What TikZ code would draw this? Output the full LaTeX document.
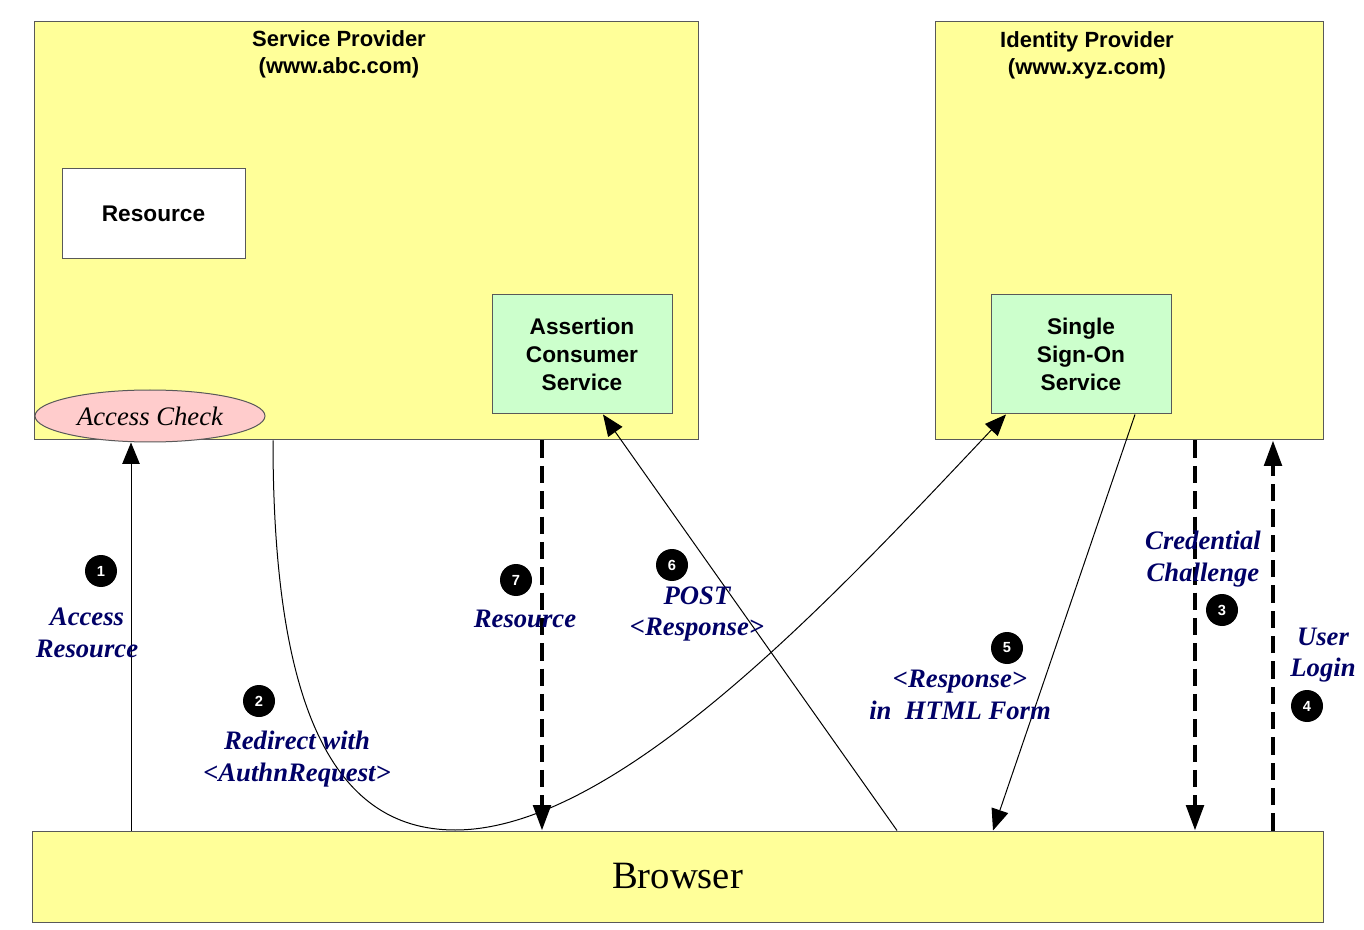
\documentclass[tikz,border=0pt]{standalone}
\usepackage{fontspec}
\setmainfont{Liberation Serif}
\setsansfont{Liberation Sans}
\usepackage{tikz}
\usetikzlibrary{shapes,arrows.meta,positioning}
\usepackage{xcolor}

\definecolor{boxyellow}{RGB}{255,255,153}
\definecolor{boxgreen}{RGB}{204,255,204}
\definecolor{checkpink}{RGB}{255,204,204}
\definecolor{labelblue}{RGB}{0,0,102}

\begin{document}
\begin{tikzpicture}[x=0.75pt,y=-0.75pt]
    \tikzstyle{party} = [rectangle, draw=black!65, fill=boxyellow, line width=0.75pt]
    \tikzstyle{title} = [font=\sffamily\bfseries\fontsize{16.5}{20}\selectfont, align=center]
    \tikzstyle{service} = [rectangle, draw=black!65, fill=boxgreen, line width=0.75pt,
    minimum width=135pt, minimum height=89.25pt, align=center,
    font=\sffamily\bfseries\fontsize{17}{21}\selectfont]
    \tikzstyle{msg} = [font=\bfseries\itshape\fontsize{20}{23.5}\selectfont,
    text=labelblue, align=center, inner sep=0pt]
    \tikzstyle{num} = [circle, fill=black, text=white, minimum size=24pt, inner sep=0pt,
    font=\sffamily\bfseries\fontsize{11}{11}\selectfont]
    \tikzstyle{line} = [draw, line width=0.75pt, -{Triangle[length=16pt, width=13pt]}]
    \tikzstyle{dline} = [draw, line width=3pt, dash pattern=on 13pt off 6pt,
    -{Triangle[length=19pt, width=13pt]}]

    \useasboundingbox (0,0) rectangle (1364,930);

    % Define parties
    \node[party, minimum width=498pt, minimum height=313.5pt] (sp) at (366,231) {};
    \node[party, minimum width=291pt, minimum height=313.5pt] (idp) at (1129,231) {};
    \node[party, minimum width=968.25pt, minimum height=68.25pt,
    font=\fontsize{29}{30}\selectfont] (browser) at (677.5,876.5) {Browser};

    \node[title] (sptitle) at (339,54) {Service Provider\\ (www.abc.com)};
    \node[title] (idptitle) at (1087,55) {Identity Provider\\ (www.xyz.com)};

    % Define services
    \node[rectangle, draw=black!65, fill=white, line width=0.75pt,
    minimum width=137.25pt, minimum height=67.5pt,
    font=\sffamily\bfseries\fontsize{17}{21}\selectfont] (res) at (153.5,214) {Resource};
    \node[service] (acs) at (582,354.5) {Assertion\\Consumer\\Service};
    \node[service] (sso) at (1081,354.5) {Single\\Sign-On\\Service};
    \node[ellipse, draw=black!65, fill=checkpink, line width=0.75pt, inner sep=0pt,
    minimum width=172.5pt, minimum height=39pt,
    font=\itshape\fontsize{20}{22}\selectfont] (check) at (150,416) {Access Check};

    % Define connector positions
    \coordinate (x1) at (131,0);
    \coordinate (x2) at (273,0);
    \coordinate (x2e) at (1006,0);
    \coordinate (x3) at (1195,0);
    \coordinate (x4) at (1273,0);
    \coordinate (x5s) at (1135,0);
    \coordinate (x5e) at (993,0);
    \coordinate (x6s) at (897,0);
    \coordinate (x6e) at (603,0);
    \coordinate (x7) at (542,0);
    \coordinate (bend) at (455,830);

    % Messages
    \path[line] (browser.north -| x1) -- (check.south -| x1);
    \path[line] (sp.south -| x2) .. controls (273,700) and (330,830) .. (bend)
    .. controls (620,830) and (840,590) .. (sso.south -| x2e);
    \path[dline] (idp.south -| x3) -- (browser.north -| x3);
    \path[dline] (browser.north -| x4) -- (idp.south -| x4);
    \path[line] (sso.south -| x5s) -- (browser.north -| x5e);
    \path[line] (browser.north -| x6s) -- (acs.south -| x6e);
    \path[dline] (sp.south -| x7) -- (browser.north -| x7);

    % Labels
    \node[num] (n1) at (101,571) {1};
    \node[msg] (m1) at (87,633) {Access\\Resource};
    \node[num] (n2) at (259,701) {2};
    \node[msg] (m2) at (297,759) {Redirect with\\<AuthnRequest>};
    \node[num] (n3) at (1222,610) {3};
    \node[msg] (m3) at (1203,559) {Credential\\Challenge};
    \node[num] (n4) at (1307,706) {4};
    \node[msg] (m4) at (1323,655) {User\\Login};
    \node[num] (n5) at (1007,648) {5};
    \node[msg] (m5) at (960,695) {<Response>\\in\ \ HTML Form};
    \node[num] (n6) at (672,565) {6};
    \node[msg] (m6) at (697,614) {POST\\<Response>};
    \node[num] (n7) at (516,580) {7};
    \node[msg] (m7) at (525,619) {Resource};

\end{tikzpicture}
\end{document}
